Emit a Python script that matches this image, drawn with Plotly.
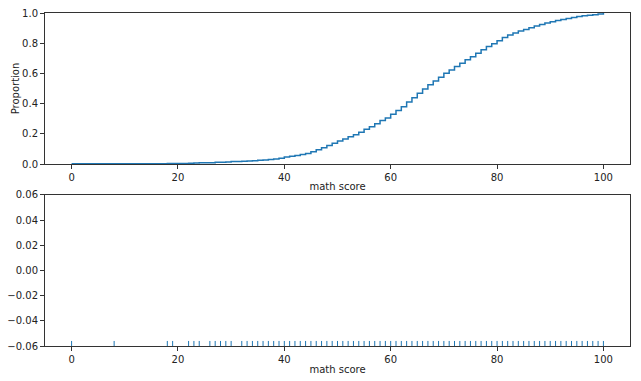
import plotly.graph_objects as go

# unique math scores present in the data
scores = [0, 8, 18, 19, 22, 23, 24, 26, 27, 28, 29, 30, 32, 33, 34, 35, 36, 37, 38, 39,
          40, 41, 42, 43, 44, 45, 46, 47, 48, 49, 50, 51, 52, 53, 54, 55, 56, 57, 58, 59,
          60, 61, 62, 63, 64, 65, 66, 67, 68, 69, 70, 71, 72, 73, 74, 75, 76, 77, 78, 79,
          80, 81, 82, 83, 84, 85, 86, 87, 88, 89, 90, 91, 92, 93, 94, 95, 96, 97, 98, 99, 100]

# ECDF proportion (share of students scoring <= score)
proportion = [0.001, 0.002, 0.003, 0.004, 0.005, 0.006, 0.008, 0.009, 0.011, 0.012, 0.014, 0.016,
              0.018, 0.020, 0.022, 0.025, 0.027, 0.030, 0.033, 0.038,
              0.046, 0.051, 0.056, 0.063, 0.070, 0.082, 0.094, 0.108, 0.122, 0.137,
              0.152, 0.166, 0.180, 0.193, 0.210, 0.230, 0.246, 0.266, 0.288, 0.305,
              0.329, 0.354, 0.380, 0.410, 0.438, 0.468, 0.496, 0.525, 0.549, 0.574,
              0.601, 0.623, 0.645, 0.668, 0.690, 0.711, 0.733, 0.756, 0.778, 0.797,
              0.816, 0.838, 0.855, 0.868, 0.880, 0.891, 0.903, 0.914, 0.924, 0.934,
              0.942, 0.950, 0.957, 0.964, 0.970, 0.976, 0.981, 0.985, 0.989, 0.993, 1.000]

x_ticks = [0, 20, 40, 60, 80, 100]
y1_ticks = [0.0, 0.2, 0.4, 0.6, 0.8, 1.0]
y2_ticks = [-0.06, -0.04, -0.02, 0.0, 0.02, 0.04, 0.06]

BLUE = "#1f77b4"
FONT = "DejaVu Sans"

fig = go.Figure()

fig.add_trace(go.Scatter(x=scores, y=proportion, mode="lines", line_shape="hv",
                         line=dict(color=BLUE, width=1.5), xaxis="x", yaxis="y",
                         showlegend=False, hoverinfo="skip"))

# rug: a short vertical tick at each score at the bottom of lower axes
rug_h = 0.004
rx, ry = [], []
for s in scores:
    rx += [s, s, None]
    ry += [-0.06, -0.06 + rug_h, None]
fig.add_trace(go.Scatter(x=rx, y=ry, mode="lines", line=dict(color=BLUE, width=1),
                         xaxis="x2", yaxis="y2", showlegend=False, hoverinfo="skip"))

axis_common = dict(showline=True, mirror=True, linecolor="#333", linewidth=1,
                   ticks="outside", ticklen=4, tickcolor="#333", tickwidth=1,
                   showgrid=False, zeroline=False, automargin=False,
                   tickfont=dict(family=FONT, size=10, color="#222"))

fig.update_layout(
    width=641, height=381,
    margin=dict(l=45, r=11, t=13, b=35),
    plot_bgcolor="white", paper_bgcolor="white",
    font=dict(family=FONT, size=10, color="#222"),
    xaxis=dict(domain=[0, 1], anchor="y", range=[-5, 105], tickvals=x_ticks,
               title=dict(text="math score", standoff=0, font=dict(size=10)), **axis_common),
    yaxis=dict(domain=[0.5465, 1], anchor="x", range=[0, 1], tickvals=y1_ticks,
               tickformat=".1f",
               title=dict(text="Proportion", standoff=0, font=dict(size=10)), **axis_common),
    xaxis2=dict(domain=[0, 1], anchor="y2", range=[-5, 105], tickvals=x_ticks,
                title=dict(text="math score", standoff=1, font=dict(size=10)), **axis_common),
    yaxis2=dict(domain=[0, 0.4535], anchor="x2", range=[-0.06, 0.06], tickvals=y2_ticks,
                tickformat=".2f", **axis_common),
)

fig.write_html("out.html", config={"displayModeBar": False},
               post_script="document.body.style.margin='0';")
